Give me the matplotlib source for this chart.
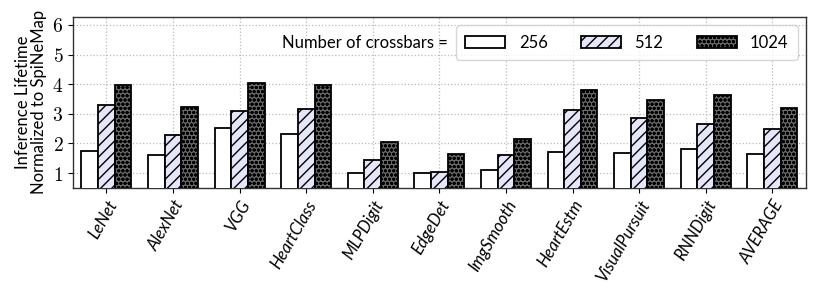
import numpy as np
import matplotlib
matplotlib.use("Agg")
from matplotlib import pyplot as plt

plt.rcParams["mathtext.fontset"] = "cm"
plt.rcParams["hatch.linewidth"] = 1.0
plt.rcParams["font.family"] = ["Lato", "DejaVu Sans"]

apps = ["LeNet", "AlexNet", "VGG", "HeartClass", "MLPDigit", "EdgeDet",
        "ImgSmooth", "HeartEstm", "VisualPursuit", "RNNDigit", "AVERAGE"]
series_names = ["256", "512", "1024"]
vals_256 = [1.74, 1.60, 2.52, 2.33, 1.01, 1.01, 1.09, 1.71, 1.69, 1.80, 1.64]
vals_512 = [3.31, 2.29, 3.10, 3.17, 1.45, 1.04, 1.61, 3.13, 2.87, 2.67, 2.48]
vals_1024 = [3.96, 3.23, 4.03, 3.96, 2.04, 1.65, 2.16, 3.79, 3.46, 3.65, 3.20]

fig, ax = plt.subplots(figsize=(8.22, 3.02), dpi=100)
fig.subplots_adjust(left=0.089, right=0.98, top=0.944, bottom=0.378)

x = np.arange(len(apps))
w = 0.25
styles = [
    dict(color="white", hatch=""),
    dict(color="#e6e6fa", hatch="///"),
    dict(color="#6a6a6a", hatch="oooo"),
]
for i, (vals, st) in enumerate(zip([vals_256, vals_512, vals_1024], styles)):
    ax.bar(x + (i - 1) * w, vals, w, bottom=0, facecolor=st["color"],
           edgecolor="black", hatch=st["hatch"], linewidth=1.3,
           label=series_names[i], zorder=3)

ax.set_xlim(-0.5, 10.5)
ax.set_ylim(0.5, 6.27)
ax.set_yticks([1, 2, 3, 4, 5, 6])
ax.set_yticklabels([f"${v}$" for v in range(1, 7)], fontsize=14)
ax.set_xticks(x)
ax.set_xticklabels(apps, rotation=60, ha="right", rotation_mode="anchor",
                   fontsize=12, style="italic")
ax.set_ylabel("Inference Lifetime\nNormalized to SpiNeMap", fontsize=12,
              linespacing=1.0)
ax.grid(True, linestyle=":", color="#bbbbbb", linewidth=0.9, zorder=0)
ax.set_axisbelow(True)
for s in ax.spines.values():
    s.set_linewidth(1.0)
    s.set_color("#333333")

leg = ax.legend(loc="upper right", ncol=3, fontsize=12, frameon=True,
                handlelength=2.4, columnspacing=2.0, handletextpad=0.8,
                borderpad=0.55, borderaxespad=0.0,
                bbox_to_anchor=(0.989, 0.95))
leg.get_frame().set_edgecolor("#cccccc")

fig.canvas.draw()
bb = leg.get_window_extent().transformed(ax.transAxes.inverted())
ax.text(bb.x0 - 0.012, (bb.y0 + bb.y1) / 2, "Number of crossbars =",
        transform=ax.transAxes, fontsize=12, ha="right", va="center")

fig.savefig("out.png", dpi=100)
